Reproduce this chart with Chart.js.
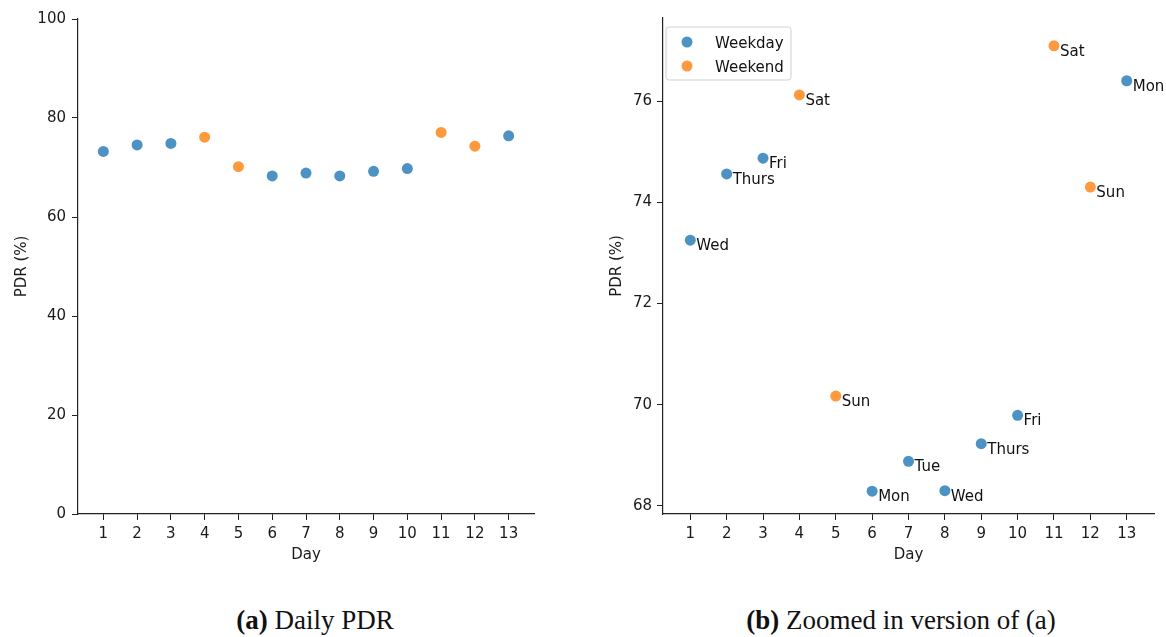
<!DOCTYPE html>
<html><head><meta charset="utf-8">
<script src="https://cdn.jsdelivr.net/npm/chart.js@4.4.0/dist/chart.umd.min.js"></script>
<style>
html,body{margin:0;padding:0;background:#fff;width:1166px;height:637px;overflow:hidden;position:relative}
canvas{position:absolute}
.cap{position:absolute;font-family:"Liberation Serif","Times New Roman",serif;font-size:27px;line-height:27px;color:#111;white-space:nowrap;transform:translateX(-50%)}
</style></head><body>
<canvas id="c1" width="560" height="600" style="left:0;top:0"></canvas>
<canvas id="c2" width="581" height="600" style="left:585px;top:0"></canvas>
<div class="cap" style="left:315px;top:607px"><b>(a)</b> Daily PDR</div>
<div class="cap" style="left:901px;top:607px"><b>(b)</b> Zoomed in version of (a)</div>
<script>
const days = [1,2,3,4,5,6,7,8,9,10,11,12,13];
const dayNames = ["Wed","Thurs","Fri","Sat","Sun","Mon","Tue","Wed","Thurs","Fri","Sat","Sun","Mon"];
const pdr = [73.25,74.56,74.87,76.12,70.17,68.29,68.88,68.30,69.23,69.79,77.09,74.30,76.40];
const weekendNames = ["Sat","Sun"];
const xTicks = [1,2,3,4,5,6,7,8,9,10,11,12,13];
const yTicksFull = [0,20,40,60,80,100];
const yTicksZoom = [68,70,72,74,76];
const seriesLabels = ["Weekday","Weekend"];
const seriesColors = ["rgba(31,119,180,0.8)","rgba(255,127,14,0.8)"];

Chart.defaults.font.family = "'DejaVu Sans', sans-serif";
Chart.defaults.font.size = 15;
Chart.defaults.color = "#1a1a1a";

function makeDatasets(){
  const groups = [[],[]];
  days.forEach((d,i)=>{
    const g = weekendNames.includes(dayNames[i]) ? 1 : 0;
    groups[g].push({x:d, y:pdr[i], name:dayNames[i]});
  });
  return groups.map((pts,g)=>({
    label: seriesLabels[g],
    data: pts,
    backgroundColor: seriesColors[g],
    borderWidth: 0,
    pointRadius: 5.5,
    pointHoverRadius: 5.5
  }));
}

function axisCommon(){
  return {
    grid:{drawOnChartArea:false, drawTicks:true, tickLength:6, tickColor:"#222", tickWidth:1},
    border:{display:true, color:"#222", width:1.2}
  };
}

function makeOptions(yMin,yMax,yTicks,yPad,yTitlePad,padRight,padTop){
  return {
    responsive:false, animation:false, devicePixelRatio:1,
    layout:{padding:{left:0,top:padTop,right:padRight,bottom:26}},
    plugins:{legend:{display:false}, tooltip:{enabled:false}},
    scales:{
      x:Object.assign(axisCommon(),{
        type:"linear", min:0.25, max:13.75,
        afterBuildTicks:(s)=>{s.ticks = xTicks.map(v=>({value:v}));},
        afterFit:(s)=>{s.height = 60;},
        ticks:{padding:5, font:{size:15}, color:"#1a1a1a", callback:(v)=>String(v), maxRotation:0, autoSkip:false},
        title:{display:true, text:"Day", font:{size:15}, color:"#1a1a1a", padding:{top:4,bottom:10}}
      }),
      y:Object.assign(axisCommon(),{
        type:"linear", min:yMin, max:yMax,
        afterBuildTicks:(s)=>{s.ticks = yTicks.map(v=>({value:v}));},
        afterFit:(s)=>{s.width = 78;},
        ticks:{padding:yPad, font:{size:15}, color:"#1a1a1a", callback:(v)=>String(v)},
        title:{display:true, text:"PDR (%)", font:{size:15}, color:"#1a1a1a", padding:{top:yTitlePad,bottom:4}}
      })
    }
  };
}

new Chart(document.getElementById("c1"),{
  type:"scatter",
  data:{datasets:makeDatasets()},
  options:makeOptions(0,100,yTicksFull,6,13,26,19)
});

const labelPlugin = {
  id:"pointNames",
  afterDatasetsDraw(chart){
    const ctx = chart.ctx;
    ctx.save();
    ctx.font = "15px 'DejaVu Sans', sans-serif";
    ctx.fillStyle = "#111";
    ctx.textAlign = "left";
    ctx.textBaseline = "alphabetic";
    chart.data.datasets.forEach((ds,di)=>{
      const meta = chart.getDatasetMeta(di);
      meta.data.forEach((el,i)=>{
        ctx.fillText(ds.data[i].name, el.x + 6, el.y + 10);
      });
    });
    ctx.restore();
  }
};

const legendPlugin = {
  id:"boxLegend",
  afterDraw(chart){
    const ctx = chart.ctx;
    const ca = chart.chartArea;
    const x0 = ca.left + 3, y0 = ca.top + 9, w = 125, h = 53, r = 3;
    ctx.save();
    ctx.beginPath();
    ctx.moveTo(x0+r,y0); ctx.lineTo(x0+w-r,y0); ctx.arcTo(x0+w,y0,x0+w,y0+r,r);
    ctx.lineTo(x0+w,y0+h-r); ctx.arcTo(x0+w,y0+h,x0+w-r,y0+h,r);
    ctx.lineTo(x0+r,y0+h); ctx.arcTo(x0,y0+h,x0,y0+h-r,r);
    ctx.lineTo(x0,y0+r); ctx.arcTo(x0,y0,x0+r,y0,r);
    ctx.closePath();
    ctx.fillStyle = "rgba(255,255,255,0.8)";
    ctx.fill();
    ctx.strokeStyle = "#d0d0d0";
    ctx.lineWidth = 1;
    ctx.stroke();
    ctx.font = "15px 'DejaVu Sans', sans-serif";
    ctx.textBaseline = "alphabetic";
    chart.data.datasets.forEach((ds,i)=>{
      const cy = y0 + 15 + i*24;
      ctx.beginPath();
      ctx.arc(x0 + 21, cy, 5.5, 0, Math.PI*2);
      ctx.fillStyle = ds.backgroundColor;
      ctx.fill();
      ctx.fillStyle = "#111";
      ctx.fillText(ds.label, x0 + 49, cy + 5.5);
    });
    ctx.restore();
  }
};

new Chart(document.getElementById("c2"),{
  type:"scatter",
  data:{datasets:makeDatasets()},
  options:makeOptions(67.84,77.64,yTicksZoom,5,23,12,18),
  plugins:[labelPlugin, legendPlugin]
});
</script>
</body></html>
